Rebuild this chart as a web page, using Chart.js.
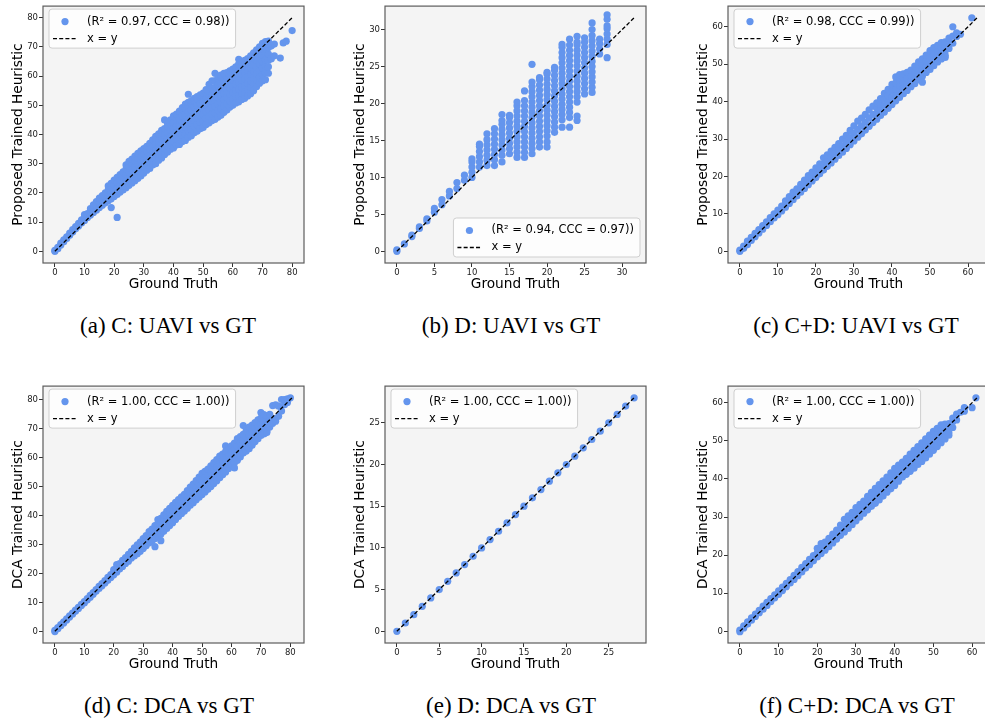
<!DOCTYPE html>
<html>
<head>
<meta charset="utf-8">
<script src="https://cdn.jsdelivr.net/npm/chart.js@4.4.0/dist/chart.umd.min.js"></script>
<style>
  html, body { margin: 0; padding: 0; background: #fff; width: 985px; height: 725px; overflow: hidden; position: relative; }
  canvas { position: absolute; }
  .cap { position: absolute; width: 300px; text-align: center; font-family: 'Liberation Serif', serif; font-size: 23px; line-height: 24px; color: #000; }
</style>
</head>
<body>
<canvas id="pa" width="310" height="300" style="left:0;top:0"></canvas>
<canvas id="pb" width="310" height="300" style="left:342px;top:0"></canvas>
<canvas id="pc" width="310" height="300" style="left:685px;top:0"></canvas>
<canvas id="pd" width="310" height="300" style="left:0;top:380px"></canvas>
<canvas id="pe" width="310" height="300" style="left:342px;top:380px"></canvas>
<canvas id="pf" width="310" height="300" style="left:685px;top:380px"></canvas>
<div class="cap" style="left:18px;top:314px">(a) C: UAVI vs GT</div>
<div class="cap" style="left:361px;top:314px">(b) D: UAVI vs GT</div>
<div class="cap" style="left:706px;top:314px">(c) C+D: UAVI vs GT</div>
<div class="cap" style="left:19px;top:694px">(d) C: DCA vs GT</div>
<div class="cap" style="left:361px;top:694px">(e) D: DCA vs GT</div>
<div class="cap" style="left:707px;top:694px">(f) C+D: DCA vs GT</div>
<script>
// rows: [ground truth, predicted values read at that ground truth...]
const uaviC = [
  [0, 0, 0.3], [1, 0.9, 1.4], [2, 2.2, 2.8], [3, 3.3, 3.9], [4, 4.4, 5], [5, 5.5, 6.2],
  [6, 6.6, 7.4], [7, 7.7, 8.5], [8, 8.7, 9.6], [9, 9.7, 10.8], [10, 10.6, 11.8, 12.6],
  [11, 11.6, 12.9], [12, 12.4, 13.8, 14.6], [13, 13.3, 14.8, 15.9], [14, 14.1, 15.7, 17],
  [15, 15, 16.5, 18.2], [16, 15.8, 17.4, 19.1], [17, 16.6, 18.3, 20],
  [18, 17.3, 19.2, 21.1, 22.4], [19, 18, 20, 22, 23.3, 15], [20, 18.8, 20.8, 22.8, 24.4],
  [21, 19.5, 21.6, 23.6, 25.3, 11.6], [22, 20.3, 22.4, 24.5, 26.3], [23, 21, 23.2, 25.4, 27.2],
  [24, 21.8, 24, 26.2, 28.2, 29.6], [25, 22.6, 24.9, 27.1, 29.2, 30.8],
  [26, 23.4, 25.7, 28, 30.1, 31.6], [27, 24.2, 26.6, 28.9, 31, 32.6],
  [28, 25, 27.4, 29.8, 31.9, 33.6], [29, 25.8, 28.2, 30.6, 32.8, 34.4],
  [30, 26.8, 29, 31.2, 33.4, 35.2], [31, 27.8, 30, 32.2, 34.4, 36],
  [32, 28.4, 30.6, 32.8, 35, 37], [33, 29.6, 31.8, 34, 36.2, 38.2],
  [34, 30, 32.2, 34.4, 36.6, 38.6, 39.4], [35, 31.2, 33.4, 35.6, 37.8, 40.2],
  [36, 32, 34.2, 36.4, 38.6, 40.6, 41.4], [37, 33.2, 35.4, 37.6, 39.8, 42, 45],
  [38, 34, 36.2, 38.4, 40.6, 42.8, 43.8], [39, 35, 37.2, 39.4, 41.6, 43.8, 45],
  [40, 35.4, 37.6, 39.8, 42, 44.2, 46.4], [41, 36.4, 38.6, 40.8, 43, 45.2, 47],
  [42, 36.6, 38.8, 41, 43.2, 45.4, 47.6, 48], [43, 37.6, 39.8, 42, 44.2, 46.4, 48.6, 49.2],
  [44, 38, 40.2, 42.4, 44.6, 46.8, 49, 50.4], [45, 39, 41.2, 43.4, 45.6, 47.8, 50, 51, 53.8],
  [46, 39.6, 41.8, 44, 46.2, 48.4, 50.6, 51.6], [47, 40.6, 42.8, 45, 47.2, 49.4, 51.6, 52.4],
  [48, 41.2, 43.4, 45.6, 47.8, 50, 52.2, 53], [49, 42, 44.2, 46.4, 48.6, 50.8, 53, 53.6],
  [50, 42.4, 44.6, 46.8, 49, 51.2, 53.4, 54.2], [51, 43.4, 45.6, 47.8, 50, 52.2, 54.4, 55.4],
  [52, 44, 46.2, 48.4, 50.6, 52.8, 55, 57.2], [53, 44.8, 47, 49.2, 51.4, 53.6, 55.8, 58.4],
  [54, 45.2, 47.4, 49.6, 51.8, 54, 56.2, 58.4, 61], [55, 46, 48.2, 50.4, 52.6, 54.8, 57, 59.2, 60],
  [56, 46.6, 48.8, 51, 53.2, 55.4, 57.6, 59.8, 60.4], [57, 47.6, 49.8, 52, 54.2, 56.4, 58.6, 61],
  [58, 48.4, 50.6, 52.8, 55, 57.2, 59.4, 61.2], [59, 49.4, 51.6, 53.8, 56, 58.2, 60.4, 61.8],
  [60, 50, 52.2, 54.4, 56.6, 58.8, 61, 62.4], [61, 50.8, 53, 55.2, 57.4, 59.6, 61.8, 63.2],
  [62, 51.2, 53.4, 55.6, 57.8, 60, 62.2, 64.2, 65.8], [63, 52, 54.2, 56.4, 58.6, 60.8, 63, 64.8],
  [64, 52.4, 54.6, 56.8, 59, 61.2, 63.4, 65.4], [65, 53.2, 55.4, 57.6, 59.8, 62, 64.2, 66],
  [66, 54, 56.2, 58.4, 60.6, 62.8, 65, 67], [67, 55, 57.2, 59.4, 61.6, 63.8, 66, 68],
  [68, 56.4, 58.6, 60.8, 63, 65.2, 67.4, 69], [69, 57.6, 59.8, 62, 64.2, 66.4, 68.6, 70],
  [70, 58.4, 60.6, 62.8, 65, 67.2, 69.4, 71.2], [71, 58.8, 61.2, 63.4, 65.6, 67.8, 70, 71.8],
  [72, 61, 63.2, 65.4, 67.6, 69.8, 72], [73, 66, 70.4], [74, 67, 71], [76, 66.2],
  [77, 71.4], [78, 72], [80, 75.6]
];

const uaviD = [
  [0, 0, 0.2], [1, 1], [2, 2, 2.2], [3, 3.1, 3.3], [4, 4.1, 4.4], [5, 5.3, 5.8],
  [6, 6.3, 7], [7, 7.5, 8.1], [8, 8.5, 9.3], [9, 9.6, 10.3],
  [10, 10, 10.7, 11.4, 12.1, 12.5],
  [11, 11.4, 12.1, 12.8, 13.5, 14.2, 14.5],
  [12, 11.6, 12.3, 13, 13.7, 14.4, 15.1, 15.9],
  [13, 11.6, 12.4, 13.1, 13.8, 14.5, 15.2, 15.9, 16.6],
  [14, 12.1, 13, 13.7, 14.4, 15.1, 15.8, 16.5, 17.2, 17.7, 18.5],
  [15, 13.2, 13.9, 14.6, 15.3, 16, 16.7, 17.4, 18.1, 18.4],
  [16, 12.7, 13.4, 14.1, 14.8, 15.5, 16.2, 16.9, 17.6, 18.3, 19, 19.7, 20.2],
  [17, 12.7, 13.4, 14.1, 14.8, 15.5, 16.2, 16.9, 17.6, 18.3, 19, 19.7, 20.4, 21.7],
  [18, 13.2, 13.9, 14.6, 15.3, 16, 16.7, 17.4, 18.1, 18.8, 19.5, 20.2, 20.9, 21.6, 22.3, 22.9, 25.3],
  [19, 14.1, 14.8, 15.5, 16.2, 16.9, 17.6, 18.3, 19, 19.7, 20.4, 21.1, 21.8, 22.5, 23.2, 23.5],
  [20, 14.1, 14.8, 15.6, 16.3, 17, 17.7, 18.4, 19.1, 19.8, 20.5, 21.2, 21.9, 22.6, 23.3, 24, 24.2],
  [21, 16.1, 16.8, 17.5, 18.2, 18.9, 19.6, 20.3, 21, 21.7, 22.4, 23.1, 23.8, 24.5, 24.9],
  [22, 16.8, 17.8, 18.5, 19.2, 19.9, 20.6, 21.3, 22, 22.7, 23.4, 24.1, 24.8, 25.5, 26.2, 26.9, 27.6, 28],
  [23, 16.8, 18.1, 18.8, 19.5, 20.2, 20.9, 21.6, 22.3, 23, 23.7, 24.4, 25.1, 25.8, 26.5, 27.2, 27.9, 28.7],
  [24, 17.7, 18.3, 20.2, 20.9, 21.6, 22.3, 23, 23.7, 24.4, 25.1, 25.8, 26.5, 27.2, 27.9, 28.3, 29.1],
  [25, 21.3, 22, 22.7, 23.4, 24.1, 24.8, 25.5, 26.2, 26.9, 27.6, 28.3, 28.9],
  [26, 21.5, 22.2, 22.9, 23.6, 24.3, 25, 25.7, 26.4, 27.1, 27.8, 28.5, 29.2, 30, 30.9],
  [27, 26.7, 27.4, 28.1, 28.7],
  [28, 26.2, 28, 28.7, 29.4, 30.1, 30.5, 31.4, 32]
];

const uaviCD = [
  [0, 0, 0.3], [1, 0.8, 1.4], [2, 1.8, 2.7], [3, 2.9, 3.7], [4, 3.9, 4.8], [5, 4.9, 5.8],
  [6, 5.9, 6.9], [7, 6.9, 7.9], [8, 7.9, 9], [9, 8.9, 10], [10, 9.8, 11], [11, 10.8, 12.1],
  [12, 11.8, 12.8, 13.5], [13, 12.8, 13.8, 14.6], [14, 13.8, 14.9, 15.8], [15, 14.8, 15.8, 16.7],
  [16, 15.8, 16.9, 17.9], [17, 16.8, 17.9, 19], [18, 17.8, 19, 20.2], [19, 18.8, 20, 21.2],
  [20, 19.7, 21, 22.3], [21, 20.7, 22, 23.4], [22, 21.7, 23.3, 25], [23, 22.7, 24.2, 25.8],
  [24, 23.6, 25.2, 26.8], [25, 24.6, 26.2, 27.8], [26, 25.6, 27.2, 28.8], [27, 26.5, 28.2, 30],
  [28, 27.5, 29.2, 31], [29, 28.5, 30.4, 32.3], [30, 29.5, 31.5, 33.5], [31, 30.5, 32.6, 34.8],
  [32, 31.4, 33.5, 35.6], [33, 32.4, 34.5, 36.6], [34, 33.4, 35.6, 37.8], [35, 34.4, 36.6, 38.8],
  [36, 35.3, 36.8, 38.3, 39.7], [37, 36.3, 37.8, 39.3, 40.8], [38, 37.2, 38.9, 40.6, 42.2],
  [39, 38.2, 39.9, 41.6, 43.3], [40, 39.2, 41, 42.8, 44.6], [41, 40.2, 41.8, 43.4, 45, 46.6],
  [42, 41.1, 42.7, 44.3, 45.8, 47.2], [43, 42.1, 43.6, 45.1, 46.4, 47.4], [44, 43, 44.6, 46.2, 47.8],
  [45, 44, 45.5, 47, 48.4], [46, 44.8, 46.4, 48, 49.5], [47, 45.8, 47.4, 49, 50.6],
  [48, 46.8, 48.4, 49.9, 51.4, 45.2], [49, 47.8, 49.3, 50.9, 52.4], [50, 48.6, 50.3, 52, 53.6],
  [51, 49.6, 51.2, 52.8, 54.4], [52, 50.6, 52.1, 53.6, 55], [53, 51.4, 52.9, 54.4, 55.8],
  [54, 52.4, 53.6, 54.8, 56, 51.8], [55, 54.2, 55.6, 57], [56, 55.6, 57.5, 60], [57, 57.4, 58.4],
  [58, 58], [61, 62.4]
];

const dcaC = [
  [0, -0.1, 0.3], [1, 0.9, 1.3], [2, 1.9, 2.3], [3, 2.9, 3.3], [4, 3.9, 4.3], [5, 4.9, 5.3],
  [6, 5.9, 6.3], [7, 6.9, 7.3], [8, 7.9, 8.3], [9, 8.9, 9.3], [10, 9.8, 10.3], [11, 10.8, 11.3],
  [12, 11.8, 12.4], [13, 12.8, 13.4], [14, 13.8, 14.4], [15, 14.8, 15.5], [16, 15.7, 16.5],
  [17, 16.7, 17.5], [18, 17.6, 18.6], [19, 18.6, 19.6], [20, 19.5, 20.4, 21.3],
  [21, 20.4, 21.4, 23], [22, 21.5, 22.5, 23.4], [23, 22.4, 23.4, 24.5], [24, 23.4, 24.4, 25.4],
  [25, 24.2, 25.4, 26.6], [26, 25.3, 26.5, 27.6], [27, 26, 27.4, 28.8], [28, 26.8, 28.3, 29.8],
  [29, 27.6, 29.2, 30.8], [30, 28.6, 30.2, 32], [31, 29.5, 31.3, 33], [32, 30.5, 32.4, 34.4],
  [33, 31.2, 33.2, 35.3], [34, 32, 34.2, 36.5, 29.2], [35, 32.8, 35, 37.2, 38.6],
  [36, 33.5, 35.8, 38, 39, 31.3], [37, 34.5, 36.8, 39, 40.2], [38, 35.5, 37.8, 40, 41.4],
  [39, 36.5, 38.8, 41, 42.4], [40, 37.5, 39.6, 41.6, 43.5], [41, 38.6, 40.6, 42.6, 44.5],
  [42, 39.6, 41.6, 43.6, 45.5], [43, 40.6, 42.6, 44.6, 46.4], [44, 41.5, 43.5, 45.5, 47.3],
  [45, 42.5, 44.6, 46.7, 48.6], [46, 43.5, 45.6, 47.8, 49.8], [47, 44.4, 46.6, 48.8, 50.8],
  [48, 45.4, 47.6, 49.8, 52], [49, 46.3, 48.6, 50.9, 53.2], [50, 47.2, 49.6, 52, 54.5],
  [51, 48.1, 50.6, 53, 55.2], [52, 49, 51.4, 53.8, 56], [53, 50, 52.4, 54.8, 57.1],
  [54, 51, 53.4, 55.8, 58.2], [55, 52, 54.4, 56.8, 59.3], [56, 53, 55.4, 57.9, 60.5],
  [57, 54, 56.4, 58.8, 61.2], [58, 55, 57.4, 59.8, 62, 64], [59, 56.2, 58.6, 61, 63],
  [60, 57.5, 59.6, 61.8, 64], [61, 58.2, 60.5, 62.8, 65, 56.4], [62, 59, 61.4, 63.8, 66.5],
  [63, 60.2, 62.6, 65, 67.2], [64, 61.5, 63.6, 65.8, 68, 71], [65, 62.2, 64.5, 66.8, 69.2],
  [66, 63, 65.4, 67.8, 70.5], [67, 64.2, 66.5, 68.8, 71.2], [68, 65.5, 67.8, 70.4, 72],
  [69, 66.5, 68.8, 71, 73], [70, 67.6, 69.8, 72, 73.6, 75.5], [71, 68.4, 70.8, 73, 74.8, 68.1],
  [72, 69, 71.5, 74.4, 68.6], [73, 70.5, 73, 74.9], [74, 71.8, 73.4, 77.9], [75, 72.5, 73.2, 78.2],
  [76, 74.2, 77.7], [77, 76, 80], [78, 78.2, 80], [79, 79, 80.2], [80, 80.6]
];

const gtDcaD = [0, 1, 2, 3, 4, 5, 6, 7, 8, 9, 10, 11, 12, 13, 14, 15, 16, 17, 18, 19, 20, 21, 22, 23, 24, 25, 26, 27, 28];
const predDcaD = [0, 1, 2, 3, 4, 5, 6, 7, 8, 9, 10, 11, 12, 13, 14, 15, 16, 17, 18, 19, 20, 21, 22, 23, 24, 25, 26, 27, 28];

const dcaCD = [
  [0, -0.1, 0.3], [1, 0.9, 1.4], [2, 1.9, 2.5], [3, 2.9, 3.5], [4, 3.9, 4.5], [5, 4.9, 5.5],
  [6, 5.8, 6.6], [7, 6.8, 7.6], [8, 7.8, 8.6], [9, 8.8, 9.6], [10, 9.7, 10.6], [11, 10.7, 11.6],
  [12, 11.7, 12.6], [13, 12.7, 13.6], [14, 13.6, 14.7], [15, 14.6, 15.7], [16, 15.6, 16.8],
  [17, 16.6, 17.8], [18, 17.5, 18.9], [19, 18.5, 19.9], [20, 19.5, 20.6, 21.8],
  [21, 20.4, 21.6, 23], [22, 21.3, 22.4, 23.4], [23, 22.2, 23.4, 24.4], [24, 23.2, 24.4, 25.5],
  [25, 24.2, 25.4, 26.6], [26, 25.2, 26.5, 27.9], [27, 26.1, 27.6, 29.4], [28, 27, 28.6, 30.3],
  [29, 28, 29.6, 31.2], [30, 29, 30.2, 31.4, 32.5], [31, 30, 31.1, 32.2, 33.3],
  [32, 31, 32.1, 33.2, 34.2], [33, 31.9, 33.1, 34.3, 35.4], [34, 32.8, 34, 35.3, 36.5],
  [35, 33.6, 34.9, 36.2, 37.5], [36, 34.5, 35.8, 37.2, 38.5], [37, 35.5, 36.8, 38.2, 39.5],
  [38, 36.5, 37.8, 39.2, 40.5], [39, 37.4, 38.8, 40.2, 41.6], [40, 38.3, 39.8, 41.3, 42.8],
  [41, 39.4, 40.8, 42.2, 43.6], [42, 40.5, 41.8, 43.1, 44.4], [43, 41.2, 42.6, 44, 45.4],
  [44, 42, 43.5, 45, 46.5], [45, 42.8, 44.4, 46, 47.5], [46, 43.8, 45.4, 47, 48.5],
  [47, 44.6, 46.2, 47.9, 49.5], [48, 45.5, 47.2, 48.8, 50.5], [49, 46.5, 48.2, 49.8, 51.5],
  [50, 47.5, 49.2, 50.8, 52.5], [51, 48.5, 50.1, 51.7, 53.3], [52, 49.5, 51.1, 52.7, 54.2],
  [53, 50.5, 51.8, 53.1, 54.4], [54, 51.5, 53.2, 54.5, 52.2], [55, 53.5, 55, 56], [56, 55.5, 57],
  [57, 57.5], [58, 58.7, 57.8], [60, 58.7], [61, 61.3]
];

const fitLabels = [
  '(R\u00b2 = 0.97, CCC = 0.98))', '(R\u00b2 = 0.94, CCC = 0.97))', '(R\u00b2 = 0.98, CCC = 0.99))',
  '(R\u00b2 = 1.00, CCC = 1.00))', '(R\u00b2 = 1.00, CCC = 1.00))', '(R\u00b2 = 1.00, CCC = 1.00))'
];
const lineLabel = 'x = y';
const identityEnds = [80, 31.6, 62.4, 80.6, 28, 61.3];
const ticks80 = [0, 10, 20, 30, 40, 50, 60, 70, 80];
const ticks30 = [0, 5, 10, 15, 20, 25, 30];
const ticks60 = [0, 10, 20, 30, 40, 50, 60];
const ticks25 = [0, 5, 10, 15, 20, 25];
const xTitle = 'Ground Truth';
const yTitleUAVI = 'Proposed Trained Heuristic';
const yTitleDCA = 'DCA Trained Heuristic';

const dotColor = '#6495ED';
const font = '"DejaVu Sans", sans-serif';
Chart.defaults.font.family = font;

function toPoints(rows) {
  const pts = [];
  rows.forEach(([gt, ...preds]) => preds.forEach(p => pts.push({ x: gt, y: p })));
  return pts;
}

// plot background, frame and the matplotlib-style legend box
const frame = {
  id: 'frame',
  beforeDraw(chart) {
    const { ctx, chartArea: a } = chart;
    ctx.save();
    ctx.fillStyle = '#f4f4f4';
    ctx.fillRect(a.left, a.top, a.width, a.height);
    ctx.restore();
  },
  afterDraw(chart, args, opts) {
    const { ctx, chartArea: a } = chart;
    ctx.save();
    ctx.strokeStyle = '#5c5c5c';
    ctx.lineWidth = 1.2;
    ctx.strokeRect(a.left, a.top, a.width, a.height);

    ctx.font = '11.5px ' + font;
    const tw = ctx.measureText(opts.text).width;
    const w = tw + 44, h = 39;
    const x = opts.corner === 'tl' ? a.left + 6 : a.right - 6 - w;
    const y = opts.corner === 'tl' ? a.top + 3 : a.bottom - 6 - h;
    ctx.beginPath();
    ctx.roundRect(x, y, w, h, 3);
    ctx.fillStyle = 'rgba(255,255,255,0.8)';
    ctx.fill();
    ctx.strokeStyle = '#cfcfcf';
    ctx.lineWidth = 1;
    ctx.stroke();

    ctx.beginPath();
    ctx.arc(x + 16, y + 12.5, 3.6, 0, Math.PI * 2);
    ctx.fillStyle = dotColor;
    ctx.fill();

    ctx.beginPath();
    ctx.setLineDash([4, 2.2]);
    ctx.strokeStyle = '#000';
    ctx.lineWidth = 1.3;
    ctx.moveTo(x + 4, y + 29.5);
    ctx.lineTo(x + 28, y + 29.5);
    ctx.stroke();
    ctx.setLineDash([]);

    ctx.fillStyle = '#000';
    ctx.textBaseline = 'middle';
    ctx.fillText(opts.text, x + 38, y + 12.5);
    ctx.fillText(lineLabel, x + 38, y + 29.5);
    ctx.restore();
  }
};

function axis(title, ticks, min, max, isX) {
  return {
    type: 'linear',
    position: isX ? 'bottom' : 'left',
    min: min,
    max: max,
    afterBuildTicks: s => { s.ticks = ticks.map(v => ({ value: v })); },
    afterFit: s => { if (isX) s.height = 37; else s.width = 43; },
    grid: { display: true, drawOnChartArea: false, drawTicks: true, tickLength: 4, color: '#333' },
    border: { display: false },
    ticks: { font: { size: 8.5 }, color: '#222', padding: 1, maxRotation: 0, autoSkip: false },
    title: {
      display: true, text: title, color: '#000',
      font: { size: 13.7 },
      padding: isX ? { top: 0, bottom: 7 } : { top: 10, bottom: 0 }
    }
  };
}

const panels = [
  { id: 'pa', pts: toPoints(uaviC), ticks: ticks80, lim: [-4, 84], yTitle: yTitleUAVI, corner: 'tl' },
  { id: 'pb', pts: toPoints(uaviD), ticks: ticks30, lim: [-1.58, 33.18], yTitle: yTitleUAVI, corner: 'br' },
  { id: 'pc', pts: toPoints(uaviCD), ticks: ticks60, lim: [-3.12, 65.52], yTitle: yTitleUAVI, corner: 'tl' },
  { id: 'pd', pts: toPoints(dcaC), ticks: ticks80, lim: [-4.03, 84.63], yTitle: yTitleDCA, corner: 'tl' },
  { id: 'pe', pts: gtDcaD.map((g, i) => ({ x: g, y: predDcaD[i] })), ticks: ticks25, lim: [-1.4, 29.4], yTitle: yTitleDCA, corner: 'tl' },
  { id: 'pf', pts: toPoints(dcaCD), ticks: ticks60, lim: [-3.07, 64.37], yTitle: yTitleDCA, corner: 'tl' }
];

panels.forEach((p, i) => {
  const end = identityEnds[i];
  new Chart(document.getElementById(p.id), {
    type: 'scatter',
    data: {
      datasets: [
        {
          label: fitLabels[i],
          data: p.pts,
          backgroundColor: dotColor,
          borderWidth: 0,
          pointRadius: 3.6,
          order: 2
        },
        {
          label: lineLabel,
          data: [{ x: 0, y: 0 }, { x: end, y: end }],
          showLine: true,
          borderColor: '#000',
          borderWidth: 1.3,
          borderDash: [4, 2.2],
          pointRadius: 0,
          order: 1
        }
      ]
    },
    options: {
      responsive: false,
      animation: false,
      devicePixelRatio: 1,
      layout: { padding: { top: 4, right: 6, left: 0, bottom: 0 } },
      scales: {
        x: axis(xTitle, p.ticks, p.lim[0], p.lim[1], true),
        y: axis(p.yTitle, p.ticks, p.lim[0], p.lim[1], false)
      },
      plugins: {
        legend: { display: false },
        tooltip: { enabled: false },
        frame: { text: fitLabels[i], corner: p.corner }
      }
    },
    plugins: [frame]
  });
});
</script>
</body>
</html>
